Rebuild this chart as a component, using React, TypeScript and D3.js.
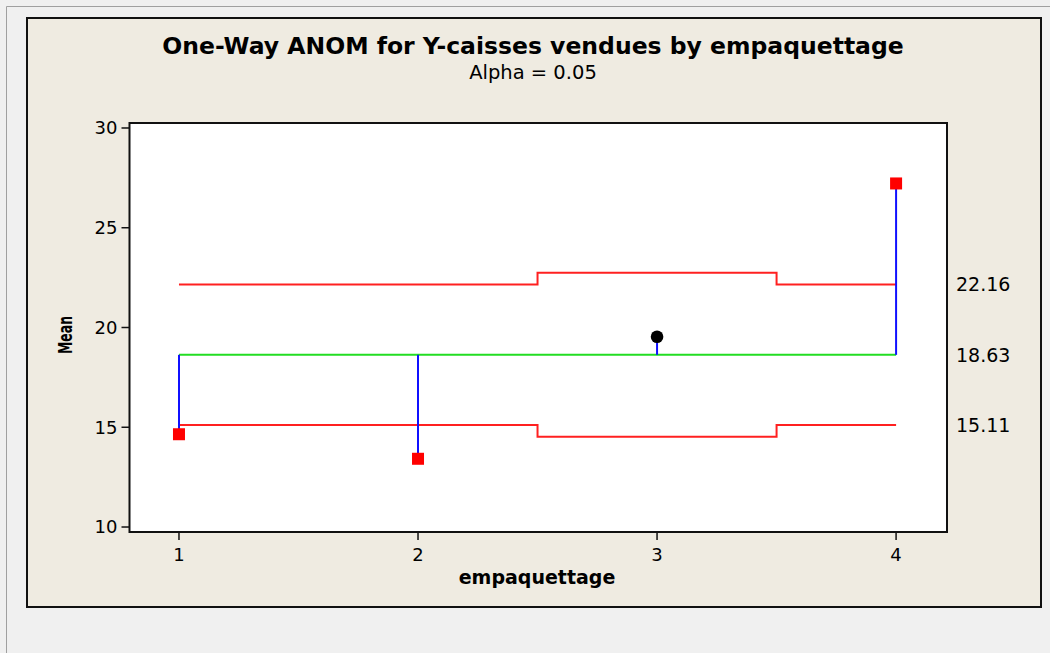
import React from "react";
import * as d3 from "d3";

const groups = [1, 2, 3, 4];
const means = [14.65, 13.42, 19.54, 27.22];
const centerLine = 18.63;
const upperLimits = [22.16, 22.16, 22.74, 22.16];
const lowerLimits = [15.11, 15.11, 14.53, 15.11];
const yTicks = [10, 15, 20, 25, 30];
const limitLabels = [
  { value: 22.16, text: "22.16" },
  { value: 18.63, text: "18.63" },
  { value: 15.11, text: "15.11" },
];
const title = "One-Way ANOM for Y-caisses vendues by empaquettage";
const subtitle = "Alpha = 0.05";
const xTitle = "empaquettage";
const yTitle = "Mean";

const W = 1050;
const H = 653;
const plot = { left: 129.5, top: 123, right: 947, bottom: 532 };
const FONT = "'DejaVu Sans', Verdana, sans-serif";

export default function App() {
  const x = d3.scaleLinear().domain([0.793, 4.213]).range([plot.left, plot.right]);
  const y = d3.scaleLinear().domain([9.75, 30.25]).range([plot.bottom, plot.top]);

  const stepPath = (vals: number[]) => {
    const pts: [number, number][] = [];
    vals.forEach((v, i) => {
      const x0 = i === 0 ? groups[0] : (groups[i - 1] + groups[i]) / 2;
      const x1 = i === vals.length - 1 ? groups[i] : (groups[i] + groups[i + 1]) / 2;
      pts.push([x(x0), y(v)]);
      pts.push([x(x1), y(v)]);
    });
    return d3.line()(pts) as string;
  };

  const outOf = (i: number) => means[i] > upperLimits[i] || means[i] < lowerLimits[i];

  return (
    <svg width={W} height={H} style={{ position: "absolute", left: 0, top: 0, background: "#f0f0f0" }}>
      <rect x={0} y={0} width={W} height={H} fill="#f0f0f0" />
      <path d={`M6.5,${H} V6.5 H${W}`} fill="none" stroke="#a0a0a0" strokeWidth={1} />
      <rect x={27} y={18} width={1014} height={589} fill="#efebe1" stroke="#111" strokeWidth={2} />
      <text x={533} y={54} textAnchor="middle" fontFamily={FONT} fontWeight="bold" fontSize={23.5} fill="#000">
        {title}
      </text>
      <text x={533} y={79} textAnchor="middle" fontFamily={FONT} fontSize={19.5} fill="#000">
        {subtitle}
      </text>
      <rect
        x={plot.left}
        y={plot.top}
        width={plot.right - plot.left}
        height={plot.bottom - plot.top}
        fill="#fff"
        stroke="#111"
        strokeWidth={2}
      />
      {yTicks.map((t) => (
        <g key={t}>
          <line x1={plot.left - 8} x2={plot.left} y1={y(t)} y2={y(t)} stroke="#111" strokeWidth={1.5} />
          <text x={plot.left - 12} y={y(t)} dy="0.36em" textAnchor="end" fontFamily={FONT} fontSize={18} fill="#000">
            {t}
          </text>
        </g>
      ))}
      {groups.map((g) => (
        <g key={g}>
          <line x1={x(g)} x2={x(g)} y1={plot.bottom} y2={plot.bottom + 8} stroke="#111" strokeWidth={1.5} />
          <text x={x(g)} y={plot.bottom + 29} textAnchor="middle" fontFamily={FONT} fontSize={18} fill="#000">
            {g}
          </text>
        </g>
      ))}
      <text x={537} y={584} textAnchor="middle" fontFamily={FONT} fontWeight="bold" fontSize={19} fill="#000">
        {xTitle}
      </text>
      <text
        transform={`translate(72,${335}) rotate(-90)`}
        textAnchor="middle"
        fontFamily={FONT}
        fontWeight="bold"
        fontSize={19}
        textLength={38}
        lengthAdjust="spacingAndGlyphs"
        fill="#000"
      >
        {yTitle}
      </text>
      <path d={stepPath(upperLimits)} fill="none" stroke="#ff2020" strokeWidth={2} />
      <path d={stepPath(lowerLimits)} fill="none" stroke="#ff2020" strokeWidth={2} />
      <line x1={x(groups[0])} x2={x(groups[groups.length - 1])} y1={y(centerLine)} y2={y(centerLine)} stroke="#22dd22" strokeWidth={2} />
      {groups.map((g, i) => (
        <line key={g} x1={x(g)} x2={x(g)} y1={y(centerLine)} y2={y(means[i])} stroke="#1010ff" strokeWidth={2} />
      ))}
      {groups.map((g, i) =>
        outOf(i) ? (
          <rect key={g} x={x(g) - 6} y={y(means[i]) - 6} width={12} height={12} fill="#ff0000" />
        ) : (
          <circle key={g} cx={x(g)} cy={y(means[i])} r={6.3} fill="#000" />
        )
      )}
      {limitLabels.map((l) => (
        <text key={l.text} x={956} y={y(l.value)} dy="0.36em" fontFamily={FONT} fontSize={19} fill="#000">
          {l.text}
        </text>
      ))}
    </svg>
  );
}
